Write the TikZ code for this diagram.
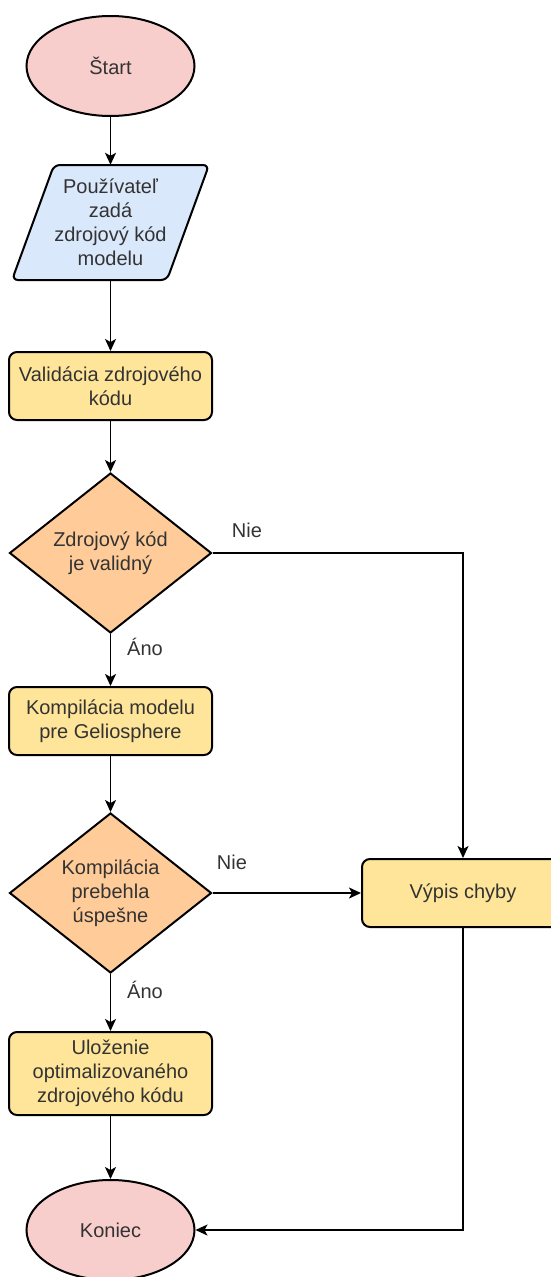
\documentclass[tikz,border=0pt]{standalone}
\usepackage{fontspec}
\setmainfont{Liberation Sans}
\usetikzlibrary{shapes.geometric,arrows.meta}
\definecolor{termpink}{HTML}{F8CECC}
\definecolor{inblue}{HTML}{DAE8FC}
\definecolor{procyellow}{HTML}{FFE599}
\definecolor{decorange}{HTML}{FFCC99}
\definecolor{txtgray}{HTML}{333333}

\begin{document}
\begin{tikzpicture}[x=1pt,y=-1pt,
  every node/.style={font=\fontsize{20}{24}\selectfont,text=txtgray,align=center},
  term/.style={ellipse,draw=black,line width=2pt,fill=termpink,minimum width=168pt,minimum height=100pt,inner sep=0pt},
  proc/.style={rectangle,rounded corners=8pt,draw=black,line width=2pt,fill=procyellow,minimum width=203pt,minimum height=68pt,inner sep=2pt},
  dec/.style={diamond,draw=black,line width=2pt,fill=decorange,minimum width=202pt,minimum height=160pt,inner sep=0pt,aspect=1.26},
  conn/.style={draw=black,line width=1.6pt,-{Stealth[length=12pt,width=11pt,inset=3pt]}},
  link/.style={draw=black,line width=1.6pt}]
\useasboundingbox (0,0) rectangle (551,1277);
% input parallelogram
\draw[line width=2pt,rounded corners=6pt,fill=inblue] (54,165)--(209,165)--(167,280)--(12,280)--cycle;
\node[minimum width=197pt,minimum height=115pt,inner sep=0pt] (input) at (110.5,222.5) {Používateľ\\zadá\\zdrojový kód\\modelu};
% main column
\node[term] (start) at (110.5,66) {Štart};
\node[proc] (valid) at (110.5,386) {Validácia zdrojového\\kódu};
\node[dec] (isvalid) at (110.5,553) {Zdrojový kód\\je validný};
\node[proc] (compile) at (110.5,721) {Kompilácia modelu\\pre Geliosphere};
\node[dec] (compiled) at (110.5,893) {Kompilácia\\prebehla\\úspešne};
\node[proc,minimum height=83pt] (save) at (110.5,1073.5) {Uloženie\\optimalizovaného\\zdrojového kódu};
\node[term] (end) at (110.5,1230) {Koniec};
% error branch
\node[proc,minimum width=202pt] (error) at (463,893) {Výpis chyby};
% labels
\node (nie1) at (247,530) {Nie};
\node (ano1) at (145,647) {Áno};
\node (nie2) at (232,862) {Nie};
\node (ano2) at (145,990) {Áno};
% connectors
\draw[conn] (start) -- (input.north);
\draw[conn] (input.south) -- (valid.north);
\draw[conn] (valid.south) -- (isvalid.north);
\draw[conn] (isvalid.south) -- (compile.north);
\draw[conn] (compile.south) -- (compiled.north);
\draw[conn] (compiled.south) -- (save.north);
\draw[conn] (save.south) -- (end.north);
\draw[conn] (isvalid.east) -| (error.north);
\draw[conn] (compiled.east) -- (error.west);
\draw[conn] (error.south) |- (end.east);
\end{tikzpicture}
\end{document}
